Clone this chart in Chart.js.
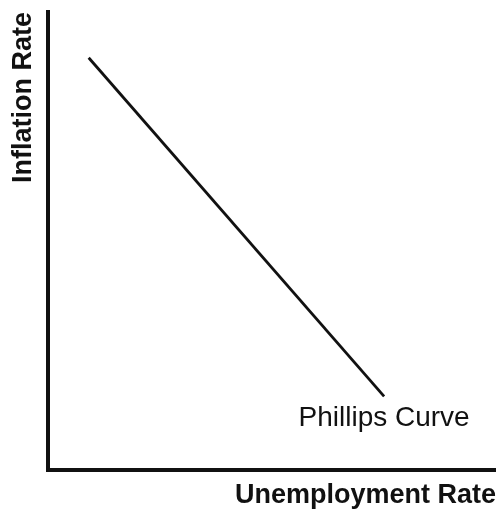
<!DOCTYPE html>
<html>
<head>
<meta charset="utf-8">
<script src="https://cdn.jsdelivr.net/npm/chart.js@4/dist/chart.umd.min.js"></script>
<style>
  html, body { margin: 0; padding: 0; background: #fff; }
  #wrap { width: 496px; height: 512px; position: relative; }
</style>
</head>
<body>
<div id="wrap"><canvas id="c"></canvas></div>
<script>
// Data (abstract units)
const unemployment = [0.9, 7.5];
const inflation = [9.0, 1.6];
const curveLabel = 'Phillips Curve';
const xTitle = 'Unemployment Rate';
const yTitle = 'Inflation Rate';

const points = unemployment.map((u, i) => ({ x: u, y: inflation[i] }));

const curveLabelPlugin = {
  id: 'curveLabel',
  afterDatasetsDraw(chart) {
    const meta = chart.getDatasetMeta(0);
    const last = meta.data[meta.data.length - 1];
    const ctx = chart.ctx;
    ctx.save();
    ctx.font = '28px "Liberation Sans", Arial, sans-serif';
    ctx.fillStyle = '#111';
    ctx.textAlign = 'center';
    ctx.textBaseline = 'alphabetic';
    ctx.fillText(curveLabel, last.x, last.y + 30);
    ctx.restore();
  }
};

new Chart(document.getElementById('c'), {
  type: 'scatter',
  data: {
    datasets: [{
      label: curveLabel,
      data: points,
      showLine: true,
      borderColor: '#111',
      borderWidth: 2.8,
      pointRadius: 0,
      fill: false
    }]
  },
  options: {
    responsive: true,
    maintainAspectRatio: false,
    animation: false,
    layout: { padding: { top: 12, right: 0, bottom: 0, left: 0 } },
    plugins: { legend: { display: false }, tooltip: { enabled: false } },
    scales: {
      x: {
        type: 'linear', min: 0, max: 10,
        grid: { display: false, drawTicks: false },
        border: { display: true, color: '#111', width: 4 },
        ticks: { display: false },
        title: {
          display: true, text: xTitle, align: 'end', color: '#111',
          font: { family: '"Liberation Sans", Arial, sans-serif', size: 27, weight: 'bold', lineHeight: 1.2 },
          padding: { top: 10, bottom: 0 }
        }
      },
      y: {
        type: 'linear', min: 0, max: 10,
        grid: { display: false, drawTicks: false },
        border: { display: true, color: '#111', width: 4 },
        ticks: { display: false },
        title: {
          display: true, text: yTitle, align: 'end', color: '#111',
          font: { family: '"Liberation Sans", Arial, sans-serif', size: 27, weight: 'bold', lineHeight: 1.2 },
          padding: { top: 7, bottom: 9 }
        }
      }
    }
  },
  plugins: [curveLabelPlugin]
});
</script>
</body>
</html>
